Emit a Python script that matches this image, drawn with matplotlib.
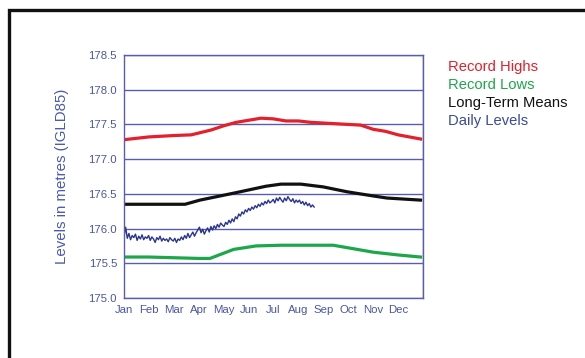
import numpy as np
import matplotlib
matplotlib.use("Agg")
import matplotlib.pyplot as plt
from matplotlib.patches import Rectangle

months = ['Jan', 'Feb', 'Mar', 'Apr', 'May', 'Jun', 'Jul', 'Aug', 'Sep', 'Oct', 'Nov', 'Dec']

# record highs (x in months since Jan 1)
high_x = [0, 1.0, 2.0, 2.7, 3.5, 4.0, 4.5, 5.0, 5.5, 6.0, 6.5, 7.0, 7.5, 8.0, 9.0, 9.5, 10.0, 10.5, 11.0, 11.9]
high_y = [177.28, 177.32, 177.34, 177.35, 177.42, 177.48, 177.53, 177.56, 177.59, 177.58, 177.55,
          177.55, 177.53, 177.52, 177.50, 177.49, 177.43, 177.40, 177.35, 177.29]

# long-term means
mean_x = [0, 1.0, 2.0, 2.45, 3.05, 4.4, 5.7, 6.3, 7.1, 8.0, 8.95, 10.0, 10.55, 11.9]
mean_y = [176.35, 176.35, 176.35, 176.35, 176.41, 176.51, 176.61, 176.64, 176.64, 176.60, 176.53,
          176.47, 176.44, 176.41]

# record lows
low_x = [0, 1.0, 2.0, 3.0, 3.45, 4.4, 5.3, 6.3, 7.5, 8.4, 9.2, 10.0, 11.0, 11.9]
low_y = [175.59, 175.59, 175.58, 175.57, 175.57, 175.70, 175.75, 175.76, 175.76, 175.76, 175.71,
         175.66, 175.62, 175.59]

# daily levels, every second day from Jan 1
daily_day = np.arange(0, 233, 2)
daily_y = [175.88, 176.02, 175.86, 175.93, 175.84, 175.90, 175.87, 175.92, 175.83, 175.89, 175.85, 175.91,
           175.84, 175.88, 175.86, 175.90,
           175.83, 175.88, 175.85, 175.80, 175.87, 175.84, 175.89, 175.82, 175.86, 175.83, 175.85, 175.81,
           175.87, 175.84,
           175.82, 175.86, 175.80, 175.85, 175.83, 175.88, 175.84, 175.90, 175.86, 175.93, 175.87, 175.91,
           175.95, 175.89, 175.94, 175.98,
           176.02, 175.94, 175.99, 175.92, 175.97, 176.01, 175.95, 176.03, 175.98, 176.04, 176.00, 176.06,
           176.02, 176.08, 176.05,
           176.03, 176.09, 176.06, 176.12, 176.08, 176.14, 176.10, 176.17, 176.14, 176.21, 176.18, 176.24,
           176.21, 176.27, 176.24,
           176.29, 176.26, 176.31, 176.28, 176.33, 176.30, 176.35, 176.32, 176.37, 176.34, 176.39, 176.36,
           176.41, 176.37, 176.39,
           176.42, 176.37, 176.44, 176.40, 176.45, 176.41, 176.38, 176.44, 176.40, 176.46, 176.42, 176.39,
           176.43, 176.37, 176.41, 176.38,
           176.41, 176.36, 176.39, 176.34, 176.38, 176.33, 176.36, 176.31, 176.34, 176.31]

yticks = [175.0, 175.5, 176.0, 176.5, 177.0, 177.5, 178.0, 178.5]

plt.rcParams['font.family'] = ['Liberation Sans', 'DejaVu Sans']

fig = plt.figure(figsize=(5.85, 3.58), dpi=100)
fig.patches.append(Rectangle((9 / 585, -0.1), 1.2, 1.1 - 10 / 358, transform=fig.transFigure,
                             fill=False, edgecolor='#111111', linewidth=2.4))

ax = fig.add_axes([124 / 585, 60 / 358, 299 / 585, 243 / 358])
grid_c = '#5a5cb0'
ax.set_xlim(0, 12)
ax.set_ylim(175.0, 178.5)
ax.set_xticks(range(12))
ax.set_xticks(range(13), minor=True)
ax.set_xticklabels(months)
ax.set_yticks(yticks)
ax.set_yticklabels(['%.1f' % v for v in yticks])
ax.grid(True, which='minor', axis='x', color=grid_c, linewidth=1.0)
ax.grid(True, which='major', axis='y', color=grid_c, linewidth=1.0)
ax.tick_params(which='both', length=0, labelsize=8.2, labelcolor='#4a55a8', pad=5)
for s in ax.spines.values():
    s.set_color(grid_c)
    s.set_linewidth(1.0)

ax.plot(high_x, high_y, color='#e3202b', lw=2.3)
ax.plot(mean_x, mean_y, color='#111111', lw=2.3)
ax.plot(low_x, low_y, color='#1ea64b', lw=2.3)
ax.plot(daily_day / 30.4, daily_y, color='#2a3590', lw=1.0)

ax.set_ylabel('Levels in metres (IGLD85)', color='#4a5ab0', fontsize=10.8, labelpad=14)

fig.text(448 / 585, 1 - 67 / 358, 'Record Highs', color='#e3202b', fontsize=10.6, va='center')
fig.text(448 / 585, 1 - 85 / 358, 'Record Lows', color='#1ea64b', fontsize=10.6, va='center')
fig.text(448 / 585, 1 - 103 / 358, 'Long-Term Means', color='#111111', fontsize=10.6, va='center')
fig.text(448 / 585, 1 - 121 / 358, 'Daily Levels', color='#3a4a9a', fontsize=10.6, va='center')

fig.savefig('out.png', dpi=100)
